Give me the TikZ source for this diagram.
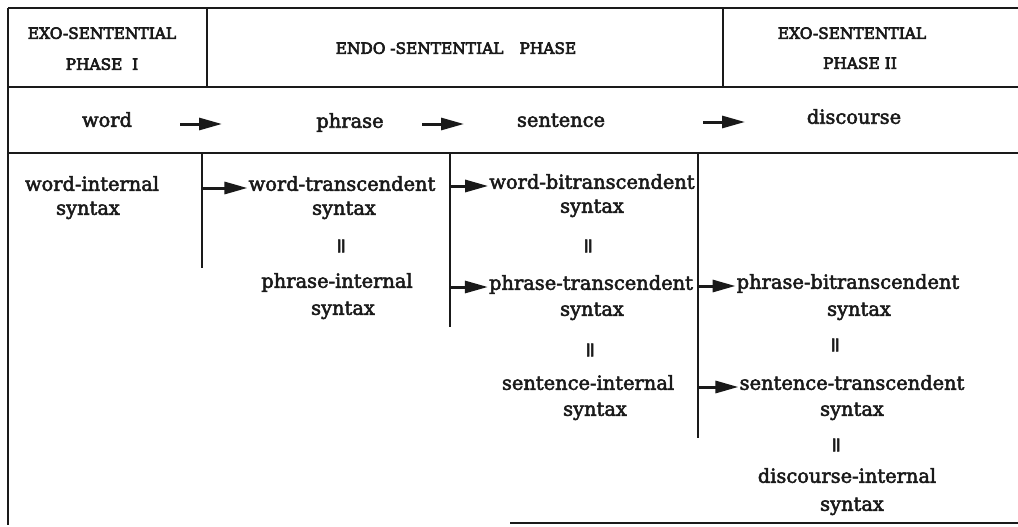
\documentclass[tikz,border=0pt]{standalone}
\usepackage{fontspec}
\setmainfont{DejaVu Serif}[FakeBold=2.6]
\newfontfamily\boldish{DejaVu Serif}[FakeBold=4]
\usetikzlibrary{arrows.meta}
\definecolor{ink}{HTML}{1A1A1A}
\begin{document}
\begin{tikzpicture}[x=1pt,y=-1pt,
  rule/.style={line width=2.8pt, draw=ink},
  hdr/.style={font=\boldish\fontsize{15.4}{18}\selectfont, text=ink, inner sep=0pt, text height=0.75em, text depth=0.2em},
  txt/.style={font=\fontsize{19.4}{24}\selectfont, text=ink, inner sep=1pt, text height=0.75em, text depth=0.2em},
  eqmark/.style={font=\fontsize{20}{20}\selectfont, text=ink, inner sep=0pt, rotate=90},
  flow/.style={line width=3pt, draw=ink, -{Triangle[length=23pt,width=12pt]}},
]
\useasboundingbox (0,0) rectangle (1018,527);
\fill[white] (0,0) rectangle (1018,527);

% frame and grid
\draw[rule] (8,8) -- (1018,8);
\draw[rule] (8,8) -- (8,525);
\draw[rule] (8,87) -- (1018,87);
\draw[rule] (8,153) -- (1018,153);
\draw[rule] (207,8) -- (207,87);
\draw[rule] (723,8) -- (723,87);
\draw[rule] (202,153) -- (202,268);
\draw[rule] (450,153) -- (450,327);
\draw[rule] (698,153) -- (698,438);
\draw[line width=1.8pt, draw=ink] (510,523) -- (1018,523);

\coordinate (d1) at (203,153);
\coordinate (d2) at (451,153);
\coordinate (d3) at (699,153);

% header
\node[hdr] (h1a) at (102,36) {EXO-SENTENTIAL};
\node[hdr] (h1b) at (102,67) {PHASE~~I};
\node[hdr] (h2) at (456,51) {ENDO -SENTENTIAL\hspace{16pt}PHASE};
\node[hdr] (h3a) at (852,36) {EXO-SENTENTIAL};
\node[hdr] (h3b) at (860,66) {PHASE~II};

% row 2
\node[txt] (word) at (107,124) {word};
\node[txt] (phrase) at (350,125) {phrase};
\node[txt] (sentence) at (561,124) {sentence};
\node[txt] (discourse) at (854,121) {discourse};
\coordinate (a1s) at (180,124); \coordinate (a1e) at (222,124);
\coordinate (a2s) at (422,124); \coordinate (a2e) at (464,124);
\coordinate (a3s) at (703,122); \coordinate (a3e) at (745,122);
\draw[flow] (a1s) -- (a1e);
\draw[flow] (a2s) -- (a2e);
\draw[flow] (a3s) -- (a3e);

% word column
\node[txt] (wi1) at (92,188) {word-internal};
\node[txt] (wi2) at (88,212) {syntax};

% phrase column
\node[txt] (wt1) at (342,188) {word-transcendent};
\node[txt] (wt2) at (344,212) {syntax};
\node[eqmark] (e1) at (343,246) {=};
\node[txt] (pi1) at (337,285) {phrase-internal};
\node[txt] (pi2) at (343,312) {syntax};

% sentence column
\node[txt] (wb1) at (592,186) {word-bitranscendent};
\node[txt] (wb2) at (592,210) {syntax};
\node[eqmark] (e2) at (590,246) {=};
\node[txt] (pt1) at (591,287) {phrase-transcendent};
\node[txt] (pt2) at (592,313) {syntax};
\node[eqmark] (e3) at (592,350) {=};
\node[txt] (si1) at (588,387) {sentence-internal};
\node[txt] (si2) at (595,413) {syntax};

% discourse column
\node[txt] (pb1) at (848,286) {phrase-bitranscendent};
\node[txt] (pb2) at (859,313) {syntax};
\node[eqmark] (e4) at (837,345) {=};
\node[txt] (st1) at (852,387) {sentence-transcendent};
\node[txt] (st2) at (852,413) {syntax};
\node[eqmark] (e5) at (838,445) {=};
\node[txt] (di1) at (847,480) {discourse-internal};
\node[txt] (di2) at (852,508) {syntax};

% row 3 arrows
\draw[flow] (d1 |- wt1.west) -- (wt1.west);
\draw[flow] (d2 |- wb1.west) -- (wb1.west);
\draw[flow] (d2 |- pt1.west) -- (pt1.west);
\draw[flow] (d3 |- pb1.west) -- (pb1.west);
\draw[flow] (d3 |- st1.west) -- (st1.west);
\end{tikzpicture}
\end{document}
